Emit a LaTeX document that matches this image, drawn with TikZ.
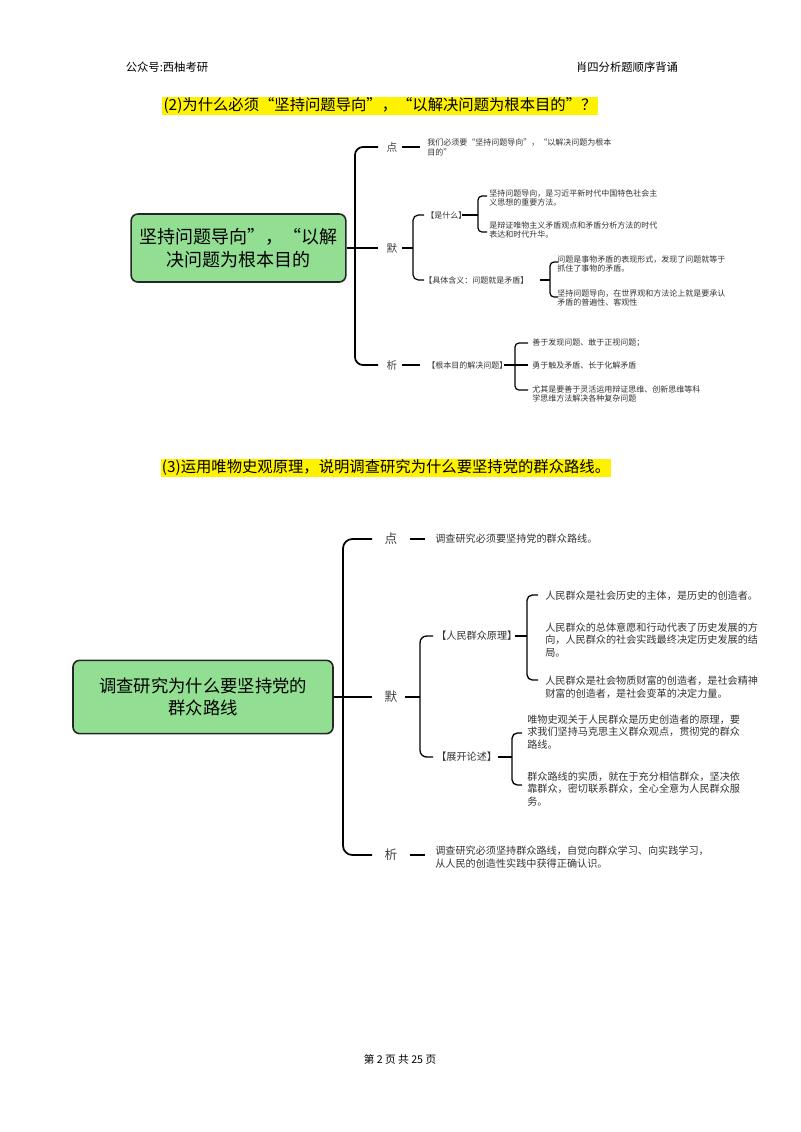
\documentclass[tikz,border=0pt]{standalone}
\usepackage{fontspec}
\setmainfont{Noto Sans CJK SC}
\definecolor{boxgreen}{RGB}{146,222,146}
\begin{document}
\begin{tikzpicture}[x=0.75pt,y=-0.75pt,
  t/.style={anchor=west,inner sep=0,align=left,text=black!80},
  s1/.style={t,font=\fontsize{6}{7.4}\selectfont},
  s2/.style={t,font=\fontsize{7.6}{9.6}\selectfont},
  lab/.style={inner sep=1pt,font=\fontsize{8}{9}\selectfont,text=black!75},
  main/.style={draw=black!85,line width=1.2pt,fill=boxgreen,rounded corners=5pt,align=center},
  hl/.style={fill=yellow,inner sep=1pt,font=\fontsize{11.5}{13}\selectfont}]
\useasboundingbox (0,0) rectangle (800,1132);
\node[font=\fontsize{8.5}{10}\selectfont] (h1) at (167,67) {公众号:西柚考研};
\node[font=\fontsize{8.5}{10}\selectfont] (h2) at (627,67) {肖四分析题顺序背诵};
\node[font=\fontsize{8}{10}\selectfont] (ft) at (400,1059) {第 2 页 共 25 页};
% ---- diagram 1
\node[hl] (tt1) at (380,106) {(2)为什么必须“坚持问题导向”，“以解决问题为根本目的”？};
\node[main,minimum width=161pt,minimum height=51pt,font=\fontsize{13.5}{17}\selectfont] (m1) at (238.5,248) {坚持问题导向”，“以解\\决问题为根本目的};
\begin{scope}[line width=1.3pt]
\draw (m1.east) -- (355,248) -- (378,248);
\draw[rounded corners=6] (378,147) -- (355,147) -- (355,365) -- (378,365);
\end{scope}
\node[lab] (d1) at (392,147) {点};
\node[lab] (m1b) at (392,248) {默};
\node[lab] (x1) at (392,365) {析};
\begin{scope}[line width=0.9pt]
\draw (402,147) -- (420,147);
\draw (402,248) -- (413,248);
\draw[rounded corners=4] (424,215) -- (413,215) -- (413,280) -- (424,280);
\draw (462,215) -- (478,215);
\draw[rounded corners=3] (487,196) -- (478,196) -- (478,232) -- (487,232);
\draw (540,280) -- (550,280);
\draw[rounded corners=3] (558,262) -- (550,262) -- (550,297) -- (558,297);
\draw (402,365) -- (420,365);
\draw (504,365) -- (528,365);
\draw[rounded corners=3] (528,343) -- (515,343) -- (515,390) -- (528,390);
\end{scope}
\node[s1] at (427,147) {我们必须要“坚持问题导向”，“以解决问题为根本\\目的”};
\node[s1] at (426,215) {【是什么】};
\node[s1] at (489,198) {坚持问题导向，是习近平新时代中国特色社会主\\义思想的重要方法。};
\node[s1] at (489,230) {是辩证唯物主义矛盾观点和矛盾分析方法的时代\\表达和时代升华。};
\node[s1] at (424,280) {【具体含义：问题就是矛盾】};
\node[s1] at (557,264) {问题是事物矛盾的表现形式，发现了问题就等于\\抓住了事物的矛盾。};
\node[s1] at (557,298) {坚持问题导向，在世界观和方法论上就是要承认\\矛盾的普遍性、客观性};
\node[s1] at (427,365) {【根本目的解决问题】};
\node[s1] at (532,343) {善于发现问题、敢于正视问题；};
\node[s1] at (532,365) {勇于触及矛盾、长于化解矛盾};
\node[s1] at (532,394) {尤其是要善于灵活运用辩证思维、创新思维等科\\学思维方法解决各种复杂问题};
% ---- diagram 2
\node[hl] (tt2) at (386,468) {(3)运用唯物史观原理，说明调查研究为什么要坚持党的群众路线。};
\node[main,minimum width=195pt,minimum height=55pt,font=\fontsize{13}{17}\selectfont] (m2) at (203,697) {调查研究为什么要坚持党的\\群众路线};
\begin{scope}[line width=1.3pt]
\draw (m2.east) -- (343,697) -- (372,697);
\draw[rounded corners=7] (372,539) -- (343,539) -- (343,855) -- (372,855);
\end{scope}
\node[lab,font=\fontsize{9.5}{11}\selectfont] (d2) at (391,539) {点};
\node[lab,font=\fontsize{9.5}{11}\selectfont] (mo2) at (391,697) {默};
\node[lab,font=\fontsize{9.5}{11}\selectfont] (x2) at (391,855) {析};
\begin{scope}[line width=1pt]
\draw (410,539) -- (425,539);
\draw (405,697) -- (420,697);
\draw[rounded corners=5] (433,636) -- (420,636) -- (420,757) -- (433,757);
\draw (515,636) -- (527,636);
\draw[rounded corners=4] (538,595) -- (527,595) -- (527,680) -- (538,680);
\draw (498,757) -- (512,757);
\draw[rounded corners=4] (522,733) -- (512,733) -- (512,785) -- (522,785);
\draw (410,855) -- (425,855);
\end{scope}
\node[s2] at (435,539) {调查研究必须要坚持党的群众路线。};
\node[s2] at (436,636) {【人民群众原理】};
\node[s2] at (545,596) {人民群众是社会历史的主体，是历史的创造者。};
\node[s2] at (545,640) {人民群众的总体意愿和行动代表了历史发展的方\\向，人民群众的社会实践最终决定历史发展的结\\局。};
\node[s2] at (545,687) {人民群众是社会物质财富的创造者，是社会精神\\财富的创造者，是社会变革的决定力量。};
\node[s2] at (436,757) {【展开论述】};
\node[s2] at (527,732) {唯物史观关于人民群众是历史创造者的原理，要\\求我们坚持马克思主义群众观点，贯彻党的群众\\路线。};
\node[s2] at (527,789) {群众路线的实质，就在于充分相信群众，坚决依\\靠群众，密切联系群众，全心全意为人民群众服\\务。};
\node[s2] at (435,857) {调查研究必须坚持群众路线，自觉向群众学习、向实践学习，\\从人民的创造性实践中获得正确认识。};
\end{tikzpicture}
\end{document}
